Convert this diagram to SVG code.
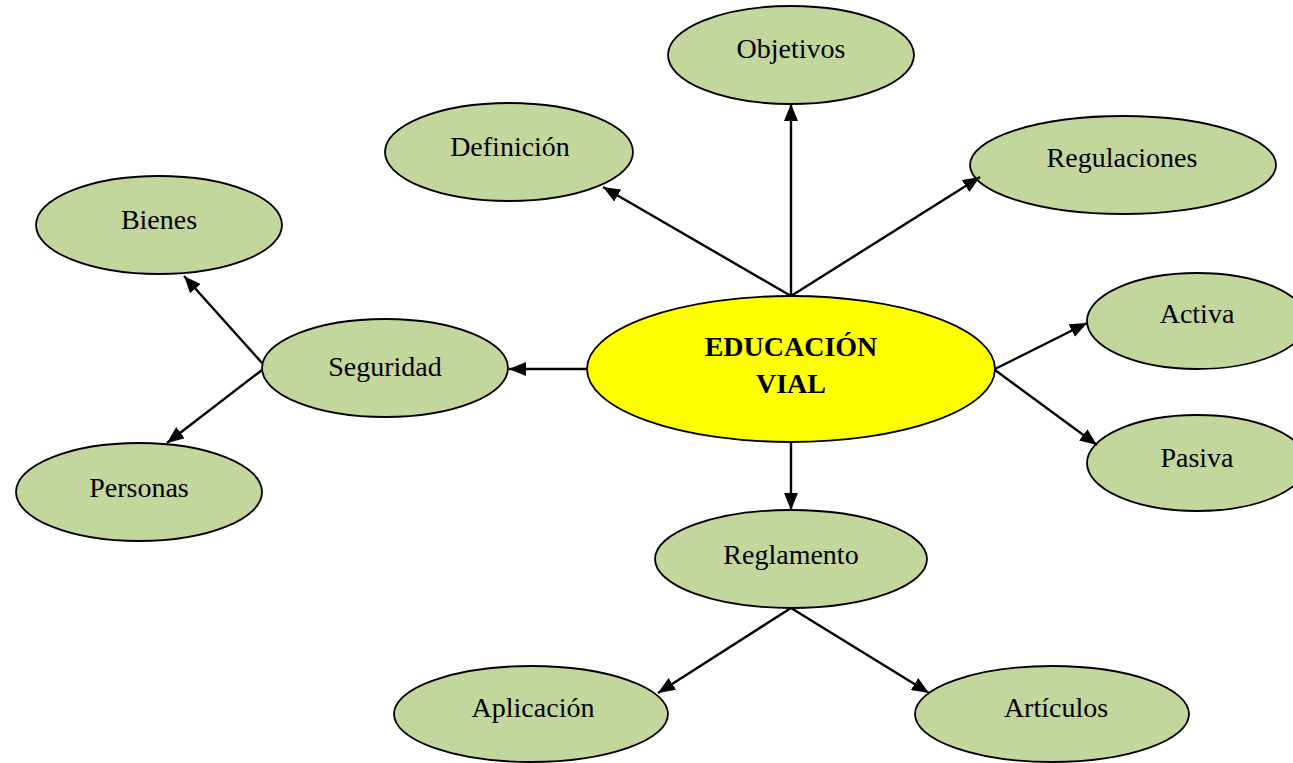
<svg xmlns="http://www.w3.org/2000/svg" width="1293" height="763" viewBox="0 0 1293 763">
<style>
.n ellipse{fill:#C3D69B;stroke:#000;stroke-width:1.8}
.c ellipse{fill:#FFFF00;stroke:#000;stroke-width:1.8}
text{font-family:"Liberation Serif","Times New Roman",serif;font-size:28px;fill:#000;text-anchor:middle}
.b{font-weight:bold}
#connectors line{stroke:#000;stroke-width:2.4;marker-end:url(#ah)}
</style>
<defs>
<marker id="ah" markerUnits="userSpaceOnUse" markerWidth="18" markerHeight="14" refX="17" refY="7" orient="auto">
<path d="M0,0 L17,7 L0,14 z" fill="#000"/>
</marker>
</defs>
<rect width="1293" height="763" fill="#fff"/>
<g id="educacion-vial" class="c"><ellipse cx="791" cy="369" rx="204" ry="73"/><text class="b" x="791" y="356">EDUCACIÓN</text><text class="b" x="791" y="393">VIAL</text></g>
<g id="objetivos" class="n"><ellipse cx="791" cy="55" rx="123" ry="49"/><text x="791" y="58">Objetivos</text></g>
<g id="definicion" class="n"><ellipse cx="509" cy="152" rx="124" ry="49"/><text x="510" y="156">Definición</text></g>
<g id="regulaciones" class="n"><ellipse cx="1123" cy="165" rx="153" ry="49"/><text x="1122" y="167">Regulaciones</text></g>
<g id="bienes" class="n"><ellipse cx="159" cy="225" rx="123" ry="49"/><text x="159" y="229">Bienes</text></g>
<g id="seguridad" class="n"><ellipse cx="385" cy="368" rx="123" ry="49"/><text x="385" y="376">Seguridad</text></g>
<g id="personas" class="n"><ellipse cx="139" cy="492" rx="123" ry="49"/><text x="139" y="497">Personas</text></g>
<g id="activa" class="n"><ellipse cx="1197" cy="321" rx="110" ry="48"/><text x="1197" y="323">Activa</text></g>
<g id="pasiva" class="n"><ellipse cx="1197" cy="463" rx="110" ry="48"/><text x="1197" y="467">Pasiva</text></g>
<g id="reglamento" class="n"><ellipse cx="791" cy="559" rx="136" ry="49"/><text x="791" y="564">Reglamento</text></g>
<g id="aplicacion" class="n"><ellipse cx="531" cy="714" rx="137" ry="48"/><text x="533" y="717">Aplicación</text></g>
<g id="articulos" class="n"><ellipse cx="1052" cy="714" rx="137" ry="48"/><text x="1056" y="717">Artículos</text></g>
<g id="connectors">
<line x1="791" y1="296" x2="791" y2="104"/>
<line x1="791" y1="296" x2="603" y2="187"/>
<line x1="791" y1="296" x2="980" y2="177"/>
<line x1="587" y1="369" x2="509" y2="369"/>
<line x1="995" y1="369" x2="1087" y2="323"/>
<line x1="995" y1="370" x2="1097" y2="445"/>
<line x1="791" y1="442" x2="791" y2="510"/>
<line x1="262" y1="363" x2="184" y2="276"/>
<line x1="262" y1="370" x2="167" y2="443"/>
<line x1="791" y1="608" x2="658" y2="693"/>
<line x1="791" y1="608" x2="929" y2="693"/>
</g>
</svg>
